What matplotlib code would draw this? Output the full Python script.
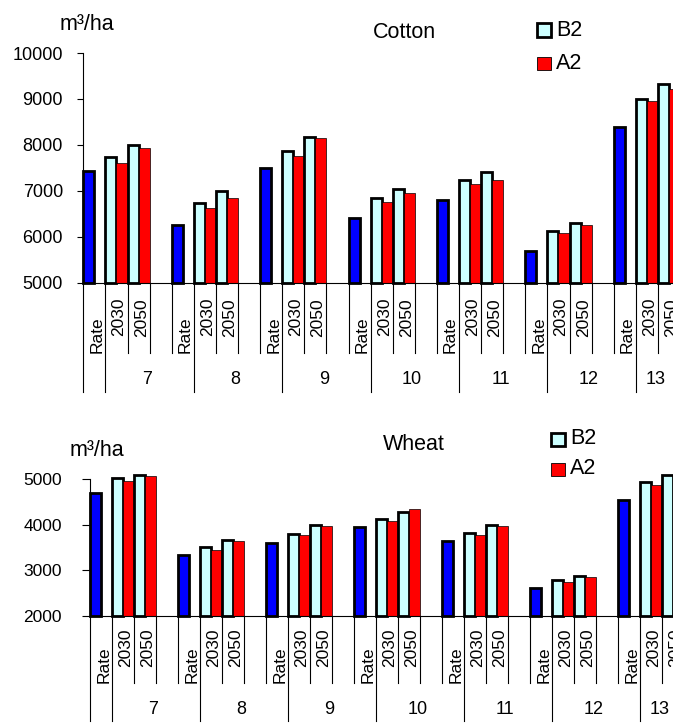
import numpy as np
import matplotlib
matplotlib.use("Agg")
import matplotlib.pyplot as plt
from matplotlib.patches import Rectangle

plt.rcParams['font.family'] = ['Liberation Sans', 'DejaVu Sans']

# data
regions = ['7', '8', '9', '10', '11', '12', '13']
sub_labels = ['Rate', '2030', '2050']
scenarios = ['B2', 'A2']

cotton_rate = [7440, 6250, 7490, 6400, 6800, 5700, 8400]
cotton_b2_2030 = [7730, 6740, 7870, 6840, 7240, 6120, 9000]
cotton_a2_2030 = [7610, 6635, 7760, 6750, 7150, 6090, 8950]
cotton_b2_2050 = [7990, 6990, 8175, 7035, 7400, 6310, 9330]
cotton_a2_2050 = [7940, 6840, 8140, 6950, 7240, 6250, 9220]

wheat_rate = [4705, 3345, 3595, 3950, 3650, 2600, 4550]
wheat_b2_2030 = [5030, 3505, 3795, 4120, 3810, 2795, 4950]
wheat_a2_2030 = [4960, 3450, 3765, 4090, 3770, 2740, 4880]
wheat_b2_2050 = [5100, 3670, 4000, 4270, 3985, 2875, 5100]
wheat_a2_2050 = [5075, 3640, 3965, 4340, 3970, 2860, 5090]

W, H = 673, 724
BLUE, CYAN, RED = '#0000ff', '#ccffff', '#ff0000'

fig = plt.figure(figsize=(W / 100, H / 100), dpi=100)


def fx(px):
    return px / W


def fy(py):
    return 1 - py / H


def panel(rect, rate, b2_30, a2_30, b2_50, a2_50, ylim, title, unit_xy, title_xy,
          leg_x, leg_rows, tick_fs, tick_pad, tick_len, offs):
    left, top, width, height = rect
    ax = fig.add_axes([fx(left), fy(top + height), width / W, height / H])
    n = len(regions)
    ncat = 4 * n - 1
    base = ylim[0]
    g = np.arange(n) * 4

    kw_thick = dict(width=0.5, align='edge', edgecolor='black', linewidth=2, bottom=base, clip_on=False)
    kw_thin = dict(width=0.5, align='edge', edgecolor='black', linewidth=0.5, bottom=base, clip_on=False)
    ax.bar(g, np.array(rate) - base, color=BLUE, **kw_thick)
    ax.bar(g + 1, np.array(b2_30) - base, color=CYAN, **kw_thick)
    ax.bar(g + 1.5, np.array(a2_30) - base, color=RED, **kw_thin)
    ax.bar(g + 2, np.array(b2_50) - base, color=CYAN, **kw_thick)
    ax.bar(g + 2.5, np.array(a2_50) - base, color=RED, **kw_thin)

    ax.set_xlim(0, ncat)
    ax.set_ylim(*ylim)
    ax.set_yticks(np.arange(ylim[0], ylim[1] + 1, 1000))
    ax.tick_params(axis='y', direction='out', length=tick_len, width=0.8,
                   labelsize=tick_fs, pad=tick_pad)
    ax.set_xticks([])
    for s in ('top', 'right'):
        ax.spines[s].set_visible(False)
    ax.spines['left'].set_linewidth(0.8)
    ax.spines['bottom'].set_linewidth(0.8)

    # multi-level category axis
    inner, outer, rate_y, year_y, grp_y = [-o / height for o in offs]
    tr = ax.get_xaxis_transform()
    for b in range(ncat + 1):
        end = outer if (b == 0 or b % 4 == 1) else inner
        ax.plot([b, b], [0, end], color='black', lw=0.8, transform=tr, clip_on=False)
    for i in range(n):
        ax.text(4 * i + 0.62, rate_y, sub_labels[0], rotation=90, ha='center', va='center',
                fontsize=12.5, transform=tr)
        ax.text(4 * i + 1.62, year_y, sub_labels[1], rotation=90, ha='center', va='center',
                fontsize=12.5, transform=tr)
        ax.text(4 * i + 2.62, year_y, sub_labels[2], rotation=90, ha='center', va='center',
                fontsize=12.5, transform=tr)
        span_mid = (4 * i + 1 + min(4 * i + 5, ncat)) / 2
        ax.text(span_mid - 0.12, grp_y, regions[i], ha='center', va='center',
                fontsize=13, transform=tr)

    fig.text(fx(unit_xy[0]), fy(unit_xy[1]), 'm³/ha', ha='center', va='center', fontsize=15.5)
    fig.text(fx(title_xy[0]), fy(title_xy[1]), title, ha='center', va='center', fontsize=15.5)

    # legend
    for (lab, fc, lw), cy in zip([(scenarios[0], CYAN, 2), (scenarios[1], RED, 0.6)], leg_rows):
        fig.add_artist(Rectangle((fx(leg_x), fy(cy + 6.5)), 14 / W, 13 / H, facecolor=fc,
                                 edgecolor='black', linewidth=lw, transform=fig.transFigure))
        fig.text(fx(leg_x + 19), fy(cy), lab, ha='left', va='center', fontsize=15.5)
    return ax


panel((83.3, 53, 596.7, 229.7), cotton_rate, cotton_b2_2030, cotton_a2_2030,
      cotton_b2_2050, cotton_a2_2050, (5000, 10000), 'Cotton', (87, 24), (404, 32),
      537, (30, 63.5), 13, 10.3, 4.3, (70, 109, 51.5, 34.5, 96.6))

panel((90, 479.3, 594, 136.4), wheat_rate, wheat_b2_2030, wheat_a2_2030,
      wheat_b2_2050, wheat_a2_2050, (2000, 5000), 'Wheat', (96.5, 450), (413.5, 445),
      551, (439, 469), 12.5, 14.6, 5.8, (67, 105, 49, 32, 94))

fig.savefig('out.png', dpi=100)
